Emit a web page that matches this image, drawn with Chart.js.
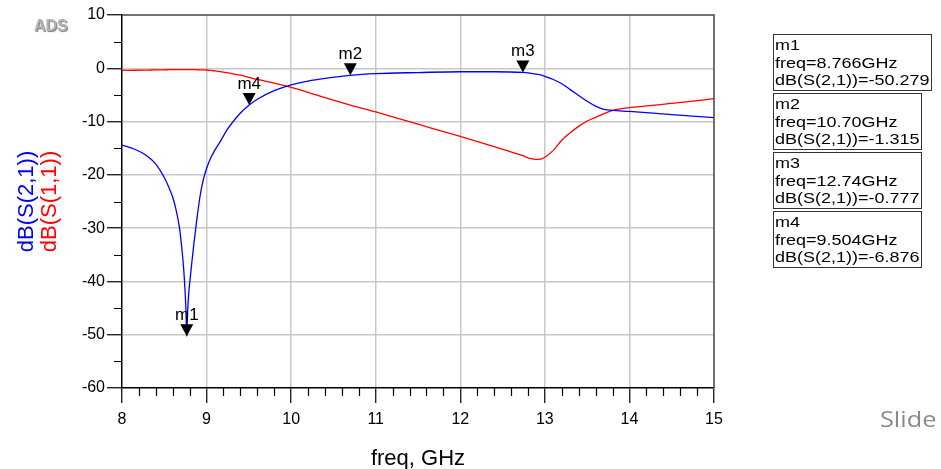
<!DOCTYPE html>
<html>
<head>
<meta charset="utf-8">
<script src="https://cdn.jsdelivr.net/npm/chart.js@4"></script>
<style>
  body { margin: 0; background: #fff; font-family: 'Liberation Sans', Arial, sans-serif; }
  #wrap { position: relative; width: 941px; height: 469px; overflow: hidden; }
  #chart { position: absolute; left: 0; top: 0; }
  .mbox { position: absolute; left: 773px; height: 54px; border: 1.5px solid #333; background: #fff; padding: 1px 0 0 1px; }
  .mbox div { font-size: 15px; line-height: 17.5px; white-space: nowrap; transform: scaleX(1.2); transform-origin: left; color: #000; }
  #ads { position: absolute; left: 34px; top: 17px; font-size: 16px; font-weight: bold; color: #b4b4b4; text-shadow: 1px 1px 1px #777; }
  #slide { position: absolute; left: 880px; top: 403px; font-family: 'Open Sans', sans-serif; font-size: 22px; color: #8a8a8a; transform: scaleX(1.15); transform-origin: left; }
</style>
</head>
<body>
<div id="wrap">
  <canvas id="chart" width="941" height="469"></canvas>
  <div id="ads">ADS</div>
  <div id="slide">Slide</div>
  <div id="boxes"></div>
</div>
<script>
// fréquences (GHz) et courbes
const freqs = [8.0, 8.15, 8.3, 8.4, 8.5, 8.55, 8.6, 8.64, 8.68, 8.71, 8.73, 8.745, 8.755, 8.766,
  8.775, 8.79, 8.804, 8.82, 8.85, 8.88, 8.92, 8.96, 9.0, 9.05, 9.1, 9.16, 9.24, 9.3, 9.4, 9.504,
  9.6, 9.8, 10.0, 10.2, 10.4, 10.7, 11.0, 11.5, 12.0, 12.4, 12.74, 12.82, 12.9, 12.96, 13.0, 13.1,
  13.2, 13.3, 13.4, 13.5, 13.6, 13.7, 13.8, 14.0, 14.5, 15.0];
const s21 = [-14.4, -15.2, -16.5, -18.0, -20.5, -22.2, -24.2, -26.6, -30.0, -34.2, -37.8, -41.6, -45.0, -50.279,
  -46.0, -42.0, -39.8, -37.3, -32.9, -29.0, -24.3, -21.0, -18.8, -16.8, -15.3, -13.8, -11.6, -10.3, -8.4, -6.876,
  -5.8, -4.2, -3.1, -2.4, -1.9, -1.315, -1.0, -0.8, -0.65, -0.65, -0.777, -0.9, -1.1, -1.3, -1.5, -2.1,
  -2.9, -4.0, -5.1, -6.2, -7.1, -7.7, -7.9, -8.1, -8.7, -9.25];
const s11 = [-0.4, -0.37, -0.33, -0.3, -0.28, -0.27, -0.26, -0.25, -0.25, -0.25, -0.25, -0.25, -0.25, -0.25,
  -0.25, -0.25, -0.25, -0.25, -0.26, -0.27, -0.28, -0.3, -0.32, -0.4, -0.5, -0.62, -0.8, -1.0, -1.3, -1.7,
  -2.1, -2.8, -3.6, -4.5, -5.5, -6.9, -8.2, -10.5, -12.8, -14.7, -16.4, -16.9, -17.1, -17.0, -16.7, -15.4,
  -13.5, -12.1, -10.9, -9.9, -9.2, -8.5, -7.9, -7.4, -6.6, -5.7];

// marqueurs
const markerNames = ['m1', 'm2', 'm3', 'm4'];
const markerFreqs = [8.766, 10.70, 12.74, 9.504];
const markerValues = [-50.279, -1.315, -0.777, -6.876];
const markerFreqText = ['8.766GHz', '10.70GHz', '12.74GHz', '9.504GHz'];
const markerValueText = ['-50.279', '-1.315', '-0.777', '-6.876'];

const FONT = "'Liberation Sans', Arial, sans-serif";

// boîtes de lecture des marqueurs
const boxTops = [34, 93, 152, 211];
const boxWidths = [156, 146, 146, 146];
document.getElementById('boxes').innerHTML = markerNames.map((m, i) => `
  <div class="mbox" style="top:${boxTops[i]}px;width:${boxWidths[i]}px">
    <div>${m}</div>
    <div>freq=${markerFreqText[i]}</div>
    <div>dB(S(2,1))=${markerValueText[i]}</div>
  </div>`).join('');

const framePlugin = {
  id: 'frame',
  afterDraw(chart) {
    const { ctx, chartArea: a, scales: { x, y } } = chart;
    ctx.save();
    // petites graduations
    ctx.strokeStyle = '#000';
    ctx.lineWidth = 1.2;
    ctx.beginPath();
    for (let v = -55; v <= 5; v += 10) {
      const py = Math.round(y.getPixelForValue(v)) + 0.5;
      ctx.moveTo(a.left - 8, py); ctx.lineTo(a.left, py);
    }
    for (let k = 41; k < 75; k++) {
      if (k % 5 === 0) continue;
      const px = Math.round(x.getPixelForValue(k / 5)) + 0.5;
      ctx.moveTo(px, a.bottom); ctx.lineTo(px, a.bottom + 8);
    }
    ctx.stroke();
    // cadre haut et droit
    ctx.strokeStyle = '#444';
    ctx.lineWidth = 1.5;
    ctx.beginPath();
    ctx.moveTo(a.left, a.top); ctx.lineTo(a.right, a.top); ctx.lineTo(a.right, a.bottom);
    ctx.stroke();
    // marqueurs
    ctx.fillStyle = '#000';
    ctx.font = '17px ' + FONT;
    ctx.textAlign = 'center';
    ctx.textBaseline = 'alphabetic';
    markerNames.forEach((m, i) => {
      const px = x.getPixelForValue(markerFreqs[i]);
      const py = y.getPixelForValue(markerValues[i]);
      ctx.beginPath();
      ctx.moveTo(px - 6.5, py - 12);
      ctx.lineTo(px + 6.5, py - 12);
      ctx.lineTo(px, py);
      ctx.closePath();
      ctx.fill();
      ctx.fillText(m, px, py - 16);
    });
    // titres de l'axe Y (deux couleurs)
    ctx.font = '22px ' + FONT;
    ctx.textBaseline = 'middle';
    const cy = (a.top + a.bottom) / 2;
    [['dB(S(2,1))', '#0000ff', 27], ['dB(S(1,1))', '#ff0000', 50]].forEach(([t, c, cx]) => {
      ctx.save();
      ctx.translate(cx, cy);
      ctx.rotate(-Math.PI / 2);
      ctx.fillStyle = c;
      ctx.fillText(t, 0, 0);
      ctx.restore();
    });
    ctx.restore();
  }
};

new Chart(document.getElementById('chart'), {
  type: 'line',
  data: {
    datasets: [
      { label: 'dB(S(2,1))', data: freqs.map((f, i) => ({ x: f, y: s21[i] })), borderColor: '#0000ff', borderWidth: 1.3, pointRadius: 0, cubicInterpolationMode: 'monotone' },
      { label: 'dB(S(1,1))', data: freqs.map((f, i) => ({ x: f, y: s11[i] })), borderColor: '#ff0000', borderWidth: 1.3, pointRadius: 0, cubicInterpolationMode: 'monotone' }
    ]
  },
  options: {
    responsive: false,
    animation: false,
    layout: { padding: { left: 0, top: 15, right: 227, bottom: 0 } },
    plugins: { legend: { display: false }, tooltip: { enabled: false } },
    scales: {
      x: {
        type: 'linear', min: 8, max: 15,
        afterFit: s => { s.height = 81; },
        ticks: { stepSize: 1, color: '#000', font: { family: FONT, size: 16 }, padding: 7, maxRotation: 0 },
        grid: { color: c => (c.tick && (c.tick.value === 8 || c.tick.value === 15)) ? 'rgba(0,0,0,0)' : '#c8c8c8', lineWidth: 1.5, tickLength: 15, tickColor: '#000', tickWidth: 1.2 },
        border: { display: true, color: '#000', width: 1.5 },
        title: { display: true, text: 'freq, GHz', color: '#000', font: { family: FONT, size: 22, lineHeight: 0.92 }, padding: 0 }
      },
      y: {
        min: -60, max: 10,
        afterFit: s => { s.width = 122; },
        ticks: { stepSize: 10, color: '#000', font: { family: FONT, size: 16 }, padding: 2 },
        grid: { color: c => (c.tick && (c.tick.value === -60 || c.tick.value === 10)) ? 'rgba(0,0,0,0)' : '#c8c8c8', lineWidth: 1.5, tickLength: 15, tickColor: '#000', tickWidth: 1.2 },
        border: { display: true, color: '#000', width: 1.5 }
      }
    }
  },
  plugins: [framePlugin]
});
</script>
</body>
</html>
